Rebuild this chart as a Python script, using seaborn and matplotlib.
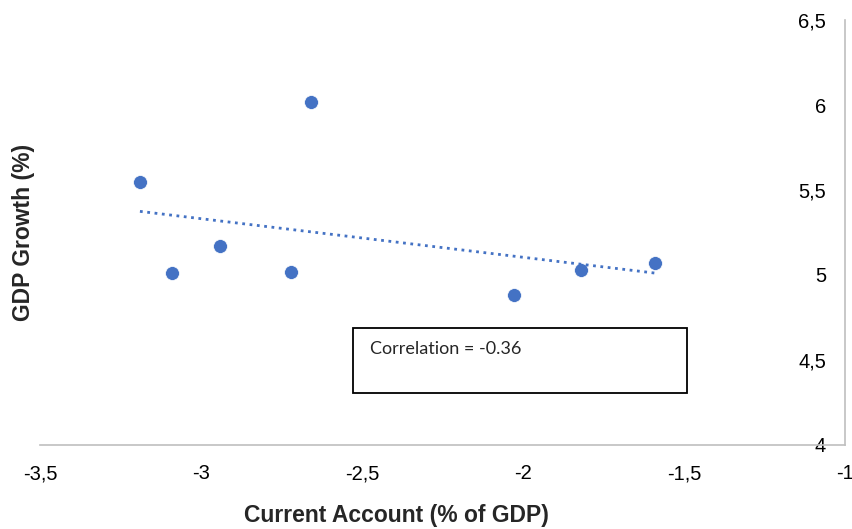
import numpy as np
import pandas as pd
import seaborn as sns
import matplotlib.pyplot as plt
from matplotlib.ticker import FuncFormatter, MultipleLocator
from matplotlib.patches import Rectangle

#   values
current_account = [-3.19, -3.09, -2.94, -2.66, -2.72, -2.03, -1.82, -1.59]
gdp_growth = [5.55, 5.01, 5.17, 6.02, 5.02, 4.88, 5.03, 5.07]
corr_text = 'Correlation = -0.36'

df = pd.DataFrame({'ca': current_account, 'gdp': gdp_growth})

sns.set_style('white')
plt.rcParams['font.family'] = ['Liberation Sans', 'DejaVu Sans']

fig, ax = plt.subplots(figsize=(8.53, 5.29), dpi=100)
fig.subplots_adjust(left=0.047, right=0.991, bottom=0.159, top=0.962)

blue = '#4472C4'
sns.regplot(data=df, x='ca', y='gdp', ax=ax, ci=None, truncate=True,
            scatter_kws={'s': 100, 'color': blue, 'edgecolor': 'white', 'linewidths': 0.5, 'alpha': 1},
            line_kws={'color': blue, 'ls': ':', 'lw': 2})

ax.set_xlim(-3.5, -1)
ax.set_ylim(4, 6.5)
ax.xaxis.set_major_locator(MultipleLocator(0.5))
ax.yaxis.set_major_locator(MultipleLocator(0.5))
comma = FuncFormatter(lambda v, p: '{:g}'.format(v).replace('.', ','))
ax.xaxis.set_major_formatter(comma)
ax.yaxis.set_major_formatter(comma)

#   y axis sits at x = -1, labels on its left
ax.spines['left'].set_position(('data', -1))
ax.spines['right'].set_visible(False)
ax.spines['top'].set_visible(False)
for s in ['left', 'bottom']:
    ax.spines[s].set_color('#bfbfbf')
    ax.spines[s].set_linewidth(1.2)
ax.tick_params(axis='x', length=0, pad=14, labelsize=14.5, colors='#000000')
ax.tick_params(axis='y', length=0, pad=14, labelsize=14.5, colors='#000000')

ax.set_xlabel('Current Account (% of GDP)', fontsize=16.5, fontweight='bold', va='top')
ax.xaxis.set_label_coords(0.442, -0.14)
ax.set_ylabel('GDP Growth (%)', fontsize=16.5, fontweight='bold')
ax.yaxis.set_label_coords(35 / 853, 0.561, transform=fig.transFigure)

#   correlation box
ax.add_patch(Rectangle((-2.528, 4.306), 1.037, 0.382, fill=False, edgecolor='black', lw=1.3, zorder=5))
ax.text(-2.475, 4.565, corr_text, fontsize=13, family=['Lato', 'DejaVu Sans'], va='center', zorder=6)

fig.savefig('out.png', dpi=100)
